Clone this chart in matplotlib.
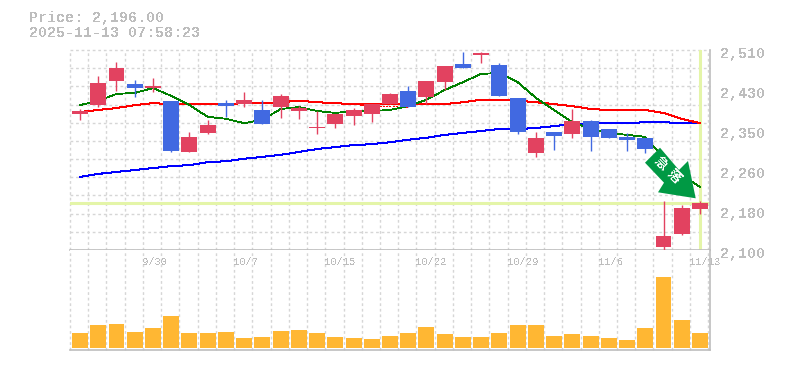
import matplotlib
matplotlib.use('Agg')
import matplotlib.pyplot as plt
from matplotlib.patches import Polygon

plt.rcParams['font.family'] = ['Liberation Mono', 'Noto Sans CJK JP', 'DejaVu Sans']
plt.rcParams['text.antialiased'] = False

price_text = 'Price: 2,196.00'
time_text = '2025-11-13 07:58:23'
arrow_chars = ['急', '落']

opens = [2379, 2397, 2446, 2440, 2432, 2406, 2301, 2340, 2401, 2399, 2387, 2393, 2385, 2350, 2358, 2375, 2379, 2399,
         2426, 2414, 2444, 2481, 2500, 2479, 2412, 2299, 2342, 2338, 2364, 2348, 2332, 2330, 2106, 2133, 2184]
highs = [2389, 2457, 2485, 2449, 2453, 2406, 2342, 2367, 2408, 2424, 2408, 2420, 2395, 2385, 2379, 2391, 2399, 2422,
         2436, 2446, 2477, 2506, 2506, 2483, 2412, 2342, 2342, 2389, 2367, 2348, 2340, 2330, 2200, 2192, 2200]
lows = [2367, 2393, 2426, 2414, 2424, 2301, 2301, 2338, 2373, 2393, 2358, 2371, 2369, 2338, 2350, 2356, 2362, 2399,
        2393, 2399, 2428, 2473, 2483, 2416, 2338, 2291, 2305, 2330, 2303, 2330, 2303, 2299, 2098, 2131, 2174]
closes = [2384, 2442, 2473, 2432, 2436, 2303, 2332, 2356, 2395, 2408, 2358, 2416, 2391, 2352, 2379, 2387, 2399, 2420,
          2393, 2446, 2477, 2473, 2504, 2416, 2342, 2330, 2334, 2364, 2332, 2330, 2326, 2307, 2129, 2186, 2196]

ma5 = [2397, 2406, 2420, 2422, 2432, 2416, 2397, 2373, 2369, 2360, 2367, 2389, 2393, 2385, 2381, 2385, 2385, 2387,
       2395, 2408, 2428, 2444, 2461, 2463, 2444, 2412, 2387, 2362, 2348, 2340, 2336, 2332, 2289, 2254, 2229]
ma25 = [2383, 2387, 2391, 2397, 2401, 2399, 2399, 2399, 2399, 2401, 2401, 2403, 2406, 2403, 2401, 2399, 2399, 2399,
        2399, 2399, 2399, 2403, 2408, 2408, 2406, 2403, 2399, 2395, 2389, 2387, 2387, 2387, 2381, 2369, 2360]
ma75 = [2250, 2256, 2260, 2264, 2268, 2272, 2274, 2280, 2282, 2287, 2291, 2295, 2301, 2307, 2311, 2315, 2317, 2321,
        2326, 2330, 2336, 2340, 2344, 2348, 2348, 2350, 2354, 2358, 2360, 2360, 2360, 2362, 2362, 2360, 2360]

volumes = [15, 23, 24, 16, 20, 32, 15, 15, 16, 10, 11, 17, 18, 15, 11, 10, 9, 12,
           15, 21, 14, 11, 11, 15, 23, 23, 12, 14, 12, 10, 8, 20, 71, 28, 15]

y_tick_values = [2510, 2428, 2346, 2264, 2182, 2100]
y_tick_labels = ['2,510', '2,430', '2,350', '2,260', '2,180', '2,100']
x_tick_index = [4, 9, 14, 19, 24, 29, 34]
x_tick_labels = ['9/30', '10/7', '10/15', '10/22', '10/29', '11/6', '11/13']

W, H = 785, 370
RED = '#e24260'
BLUE = '#4169e1'
GRID = '#d6d6d6'
TEXT = '#bdbdbd'
HILITE = '#e4f5a8'

fig = plt.figure(figsize=(W / 100, H / 100), dpi=100)
ax = fig.add_axes([70 / W, 1 - 250 / H, 640 / W, 200 / H])
vol = fig.add_axes([70 / W, 1 - 350 / H, 640 / W, 100 / H])

n = len(closes)
xs = list(range(n))
xlim = (-0.55, n - 0.45)
grid_x = [i - 0.55 for i in range(n + 1)]
grid_y = [2100 + i * 410 / 11 for i in range(12)]

for a in (ax, vol):
    a.set_xlim(xlim)
    a.set_xticks(grid_x)
    a.tick_params(length=0, labelbottom=False, labelleft=False)
    a.set_axisbelow(True)
    a.grid(axis='x', color=GRID, lw=1, ls=(0, (2, 2)), clip_on=False)
    a.spines['top'].set_visible(False)
    a.spines['left'].set_visible(False)
    a.spines['right'].set_color(TEXT)
    a.spines['bottom'].set_color(TEXT)
    a.spines['right'].set_linewidth(1.2)
    a.spines['bottom'].set_linewidth(1.2)

ax.set_ylim(2100, 2510)
ax.set_yticks(grid_y)
ax.grid(axis='y', color=GRID, lw=1, ls=(0, (2, 2)), clip_on=False)

vol.set_ylim(-2, 98)
vol.set_yticks([])

# last price cross hair
ax.axhline(closes[-1], xmax=0.997, color=HILITE, lw=2.2, zorder=1)
ax.axvline(xs[-1], ymin=0.01, color=HILITE, lw=2.2, zorder=1)

ax.plot(xs, ma75, color='#0000ff', lw=0.72, zorder=2, antialiased=False)
ax.plot(xs, ma25, color='#ff0000', lw=0.72, zorder=2, antialiased=False)
ax.plot(xs, ma5, color='#008000', lw=0.6, zorder=2, antialiased=False)

colors = [RED if c >= o else BLUE for o, c in zip(opens, closes)]
ax.vlines(xs, lows, highs, colors=colors, lw=1, zorder=3)
tops = [max(o, c) for o, c in zip(opens, closes)]
bots = [min(o, c) for o, c in zip(opens, closes)]
ax.bar(xs, [t - b for t, b in zip(tops, bots)], bottom=bots, width=0.877, color=colors, zorder=3)

vol.bar(xs, volumes, width=0.877, color='#ffb733', zorder=3)

fig.text(29 / W, 1 - 18 / H, price_text, color=TEXT, fontsize=10.8, fontweight='bold', va='center', ha='left')
fig.text(29 / W, 1 - 33 / H, time_text, color=TEXT, fontsize=10.8, fontweight='bold', va='center', ha='left')

for v, s in zip(y_tick_values, y_tick_labels):
    ax.annotate(s, (1, v), xycoords=('axes fraction', 'data'), xytext=(7.2, -2.9),
                textcoords='offset points', color=TEXT, fontsize=10.8, fontweight='bold', va='center', ha='left',
                annotation_clip=False)

for i, s in zip(x_tick_index, x_tick_labels):
    vol.annotate(s, (i - 0.55, 1), xycoords=('data', 'axes fraction'), xytext=(-0.5, -8.6),
                 textcoords='offset points', color=TEXT, fontsize=7.6, va='center', ha='left',
                 annotation_clip=False)

# green arrow badge, placed in figure pixels
arrow_px = [(660, 147.7), (645, 162.7), (664, 182.7), (658, 192.3), (695.7, 198.3), (688, 161), (679, 170)]
arrow_fig = [(x / W, 1 - y / H) for x, y in arrow_px]
fig.add_artist(Polygon(arrow_fig, closed=True, transform=fig.transFigure, facecolor='#009944', edgecolor='none', zorder=5))
for ch, (px, py) in zip(arrow_chars, [(660, 164), (673, 177)]):
    fig.text(px / W, 1 - py / H, ch, color='white', fontsize=9.5, fontweight='bold', rotation=-45,
             rotation_mode='anchor', ha='center', va='center', zorder=6)

fig.savefig('out.png', dpi=100)
